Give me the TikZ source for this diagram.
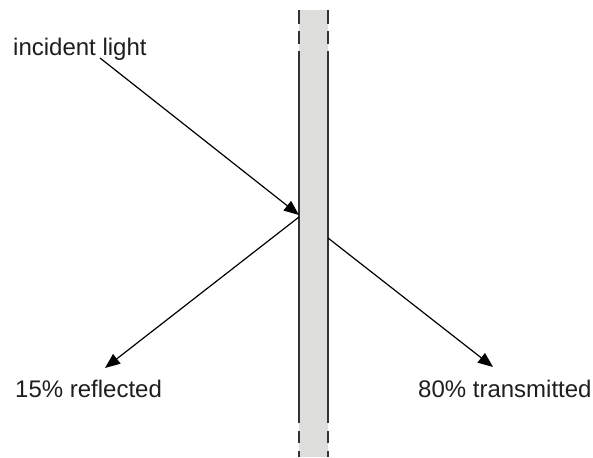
\documentclass[tikz,border=0pt]{standalone}
\usepackage{fontspec}
\setmainfont{Liberation Sans}
\usetikzlibrary{arrows.meta}
\definecolor{glassfill}{RGB}{221,221,219}
\definecolor{edgecol}{RGB}{50,50,50}
\definecolor{txt}{RGB}{30,30,30}
\tikzset{
  lbl/.style={anchor=base west, inner sep=0pt, text=txt, font=\fontsize{24}{28}\selectfont},
  ray/.style={line width=1.2pt, draw=black, -{Triangle[length=15pt,width=12pt]}},
  glassedge/.style={line width=2pt, draw=edgecol}
}
\begin{document}
\begin{tikzpicture}[x=1pt,y=-1pt]
\useasboundingbox (0,0) rectangle (593,457);
% glass pane
\fill[glassfill] (299,10) rectangle (328,457);
\foreach \xx in {299,328}{
  \draw[glassedge] (\xx,10) -- (\xx,24);
  \draw[glassedge] (\xx,31) -- (\xx,44);
  \draw[glassedge] (\xx,51) -- (\xx,423);
  \draw[glassedge] (\xx,431) -- (\xx,443);
  \draw[glassedge] (\xx,451) -- (\xx,457);
}
% labels
\node[lbl] (inc) at (13,56) {incident light};
\node[lbl] (refl) at (15,397) {15\% reflected};
\node[lbl] (trans) at (418,397) {80\% transmitted};
% ray points
\coordinate (a0) at (100,58);
\coordinate (hit) at (299,215);
\coordinate (r0) at (299,217);
\coordinate (r1) at (105,368);
\coordinate (t0) at (328,238);
\coordinate (t1) at (493,367);
\draw[ray] (a0) -- (hit);
\draw[ray] (r0) -- (r1);
\draw[ray] (t0) -- (t1);
\end{tikzpicture}
\end{document}
